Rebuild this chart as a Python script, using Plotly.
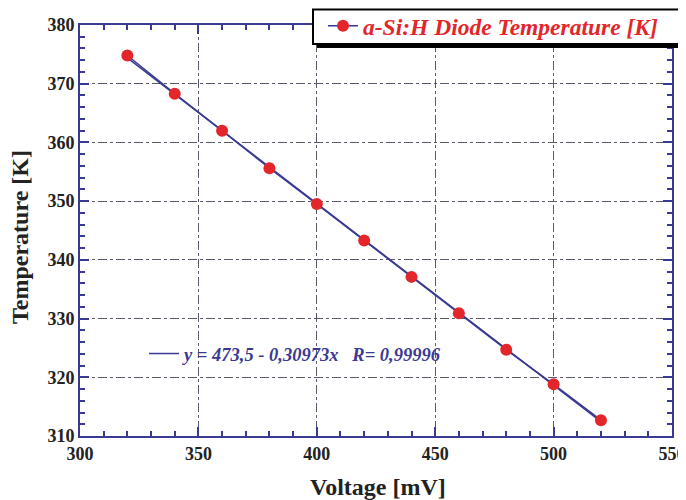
import plotly.graph_objects as go

voltage = [320, 340, 360, 380, 400, 420, 440, 460, 480, 500, 520]
temperature = [374.8, 368.3, 362.0, 355.6, 349.5, 343.3, 337.1, 330.9, 324.7, 318.8, 312.7]
fit_intercept = 473.5
fit_slope = -0.30973
fit_label = "y = 473,5 - 0,30973x\u00a0\u00a0\u00a0R= 0,99996"
series_label = "a-Si:H Diode Temperature [K]"
x_title = "Voltage [mV]"
y_title = "Temperature [K]"

fit_y = [fit_intercept + fit_slope * v for v in voltage]

BLUE = "#3a3a92"
RED = "#e3262a"
SERIF = "Liberation Serif"

fig = go.Figure()
fig.add_trace(go.Scatter(
    x=voltage, y=fit_y, mode="lines", name=fit_label,
    line=dict(color=BLUE, width=1.5), legend="legend2"))
fig.add_trace(go.Scatter(
    x=voltage, y=temperature, mode="lines+markers", name=series_label,
    line=dict(color=BLUE, width=1.5),
    marker=dict(color=RED, size=12), legend="legend"))

axis_common = dict(
    showline=True, linecolor=BLUE, linewidth=2, mirror="ticks",
    ticks="inside", ticklen=9, tickwidth=1.5, tickcolor=BLUE,
    showgrid=True, gridcolor="#5a5a6a", gridwidth=1, griddash="dashdot",
    zeroline=False, automargin=False,
    tickfont=dict(family=SERIF, size=18, color="#222", weight="bold"),
)

fig.update_xaxes(range=[300, 550], dtick=50, tick0=300,
                 minor=dict(dtick=10, ticks="inside", ticklen=5, tickcolor=BLUE, showgrid=False),
                 **axis_common)
fig.update_yaxes(range=[310, 380], dtick=10, tick0=310,
                 minor=dict(dtick=2, ticks="inside", ticklen=5, tickcolor=BLUE, showgrid=False),
                 **axis_common)

# page has an 8px body margin; compensate so the plot area lands at 80..672 x 25..436
OFF = 8
W, H = 686 - OFF, 500 - OFF
PL, PT, PR, PB = 80, 25, 672, 436
L, T, R, B = PL - OFF, PT - OFF, (W + OFF) - PR, (H + OFF) - PB
pw, ph = PR - PL, PB - PT

def px(xp):
    return (xp - PL) / pw

def py(yp):
    return (PB - yp) / ph

# legend box with drop shadow
fig.add_shape(type="rect", xref="paper", yref="paper",
              x0=px(317), x1=px(684), y0=py(48), y1=py(13),
              fillcolor="black", line=dict(width=0), layer="above")
fig.add_shape(type="rect", xref="paper", yref="paper",
              x0=px(313), x1=px(680), y0=py(44), y1=py(9.5),
              fillcolor="white", line=dict(color="black", width=2), layer="above")

fig.add_annotation(text=x_title, xref="paper", yref="paper",
                   x=px(378), y=py(487), xanchor="center", yanchor="middle",
                   showarrow=False,
                   font=dict(family=SERIF, size=24, color="#222", weight="bold"))
fig.add_annotation(text=y_title, xref="paper", yref="paper",
                   x=px(20), y=py(237), xanchor="center", yanchor="middle",
                   textangle=-90, showarrow=False,
                   font=dict(family=SERIF, size=24, color="#222", weight="bold"))

fig.update_layout(
    width=W, height=H,
    margin=dict(l=L, r=R, t=T, b=B, autoexpand=False),
    plot_bgcolor="white", paper_bgcolor="white",
    showlegend=True,
    legend=dict(x=px(323), y=py(26), xanchor="left", yanchor="middle",
                bgcolor="rgba(0,0,0,0)", borderwidth=0,
                font=dict(family=SERIF, size=23.5, color=RED, weight="bold", style="italic"),
                itemwidth=30),
    legend2=dict(x=px(144), y=py(354), xanchor="left", yanchor="middle",
                 bgcolor="rgba(0,0,0,0)", borderwidth=0,
                 font=dict(family=SERIF, size=18.5, color=BLUE, weight="bold", style="italic"),
                 itemwidth=30),
)

fig.write_html("out.html")
